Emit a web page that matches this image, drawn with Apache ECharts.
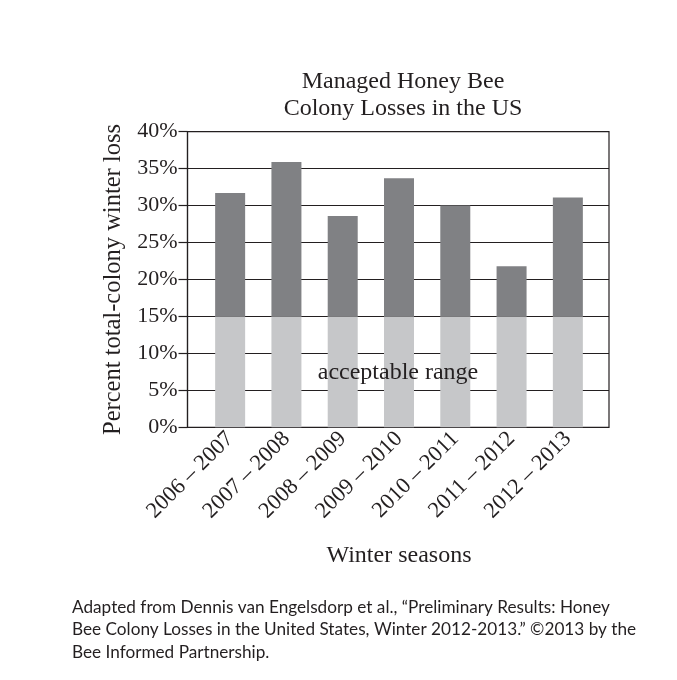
<!DOCTYPE html>
<html><head><meta charset="utf-8">
<script src="https://cdn.jsdelivr.net/npm/echarts@6/dist/echarts.min.js"></script>
<style>html,body{margin:0;padding:0;background:#fff}#c{width:677px;height:680px}</style>
</head><body><div id="c"></div>
<script>
const seasons = ['2006 – 2007','2007 – 2008','2008 – 2009','2009 – 2010','2010 – 2011','2011 – 2012','2012 – 2013'];
const lossPct = [31.7, 35.9, 28.6, 33.7, 30.0, 21.8, 31.1];
const acceptableLimit = 15;
const yTicks = ['0%','5%','10%','15%','20%','25%','30%','35%','40%'];

const baseSeg = lossPct.map(v => Math.min(v, acceptableLimit));
const topSeg = lossPct.map(v => Math.max(v - acceptableLimit, 0));

const serif = '"Liberation Serif", "DejaVu Serif", serif';
const chart = echarts.init(document.getElementById('c'), null, {renderer:'canvas'});
chart.setOption({
  animation:false,
  backgroundColor:'#fff',
  title:{
    text:'Managed Honey Bee\nColony Losses in the US',
    left:398, top:63, textAlign:'center',
    textStyle:{fontFamily:serif, fontSize:24, fontWeight:'normal', color:'#231f20', lineHeight:27}
  },
  grid:[
    {left:187.5, right:68, top:131.7, bottom:252.7, show:true, borderColor:'#231f20', borderWidth:1.2, backgroundColor:'transparent'},
    {left:202, right:81, top:131.7, bottom:252.7}
  ],
  xAxis:[
    {gridIndex:0, type:'value', min:0, max:1, show:false},
    {gridIndex:1, type:'category', data:seasons,
     axisLine:{show:false}, axisTick:{show:false},
     axisLabel:{rotate:45, interval:0, fontFamily:serif, fontSize:22.5, color:'#231f20', margin:8},
     name:'Winter seasons', nameLocation:'middle', nameGap:116,
     nameTextStyle:{fontFamily:serif, fontSize:24, color:'#231f20'}}
  ],
  yAxis:[
    {gridIndex:0, type:'value', min:0, max:40, interval:5,
     axisLine:{show:true, lineStyle:{color:'#231f20', width:1.2}},
     axisTick:{show:true, length:9, lineStyle:{color:'#231f20', width:1.2}},
     splitLine:{show:true, lineStyle:{color:'#231f20', width:1.1}},
     axisLabel:{formatter:(v)=>yTicks[Math.round(v/5)], fontFamily:serif, fontSize:22, color:'#231f20', margin:10},
     name:'Percent total-colony winter loss', nameLocation:'middle', nameGap:60, nameRotate:90,
     nameTextStyle:{fontFamily:serif, fontSize:24.5, color:'#231f20'}},
    {gridIndex:1, type:'value', min:0, max:40, show:false}
  ],
  series:[
    {type:'bar', xAxisIndex:1, yAxisIndex:1, stack:'s', data:baseSeg, barWidth:30, itemStyle:{color:'#c6c7c9'}, z:3},
    {type:'bar', xAxisIndex:1, yAxisIndex:1, stack:'s', data:topSeg, barWidth:30, itemStyle:{color:'#808184'}, z:3}
  ],
  graphic:[
    {type:'text', x:398, y:373, z:10, style:{text:'acceptable range', fontFamily:serif, fontSize:24, fill:'#231f20', textAlign:'center', textVerticalAlign:'middle'}},
    {type:'text', left:72, top:596, style:{text:'Adapted from Dennis van Engelsdorp et al., “Preliminary Results: Honey\nBee Colony Losses in the United States, Winter 2012-2013.” ©2013 by the\nBee Informed Partnership.', fontFamily:'Lato, "Open Sans", sans-serif', fontSize:17.2, lineHeight:22.5, fill:'#231f20'}}
  ]
});
</script></body></html>
